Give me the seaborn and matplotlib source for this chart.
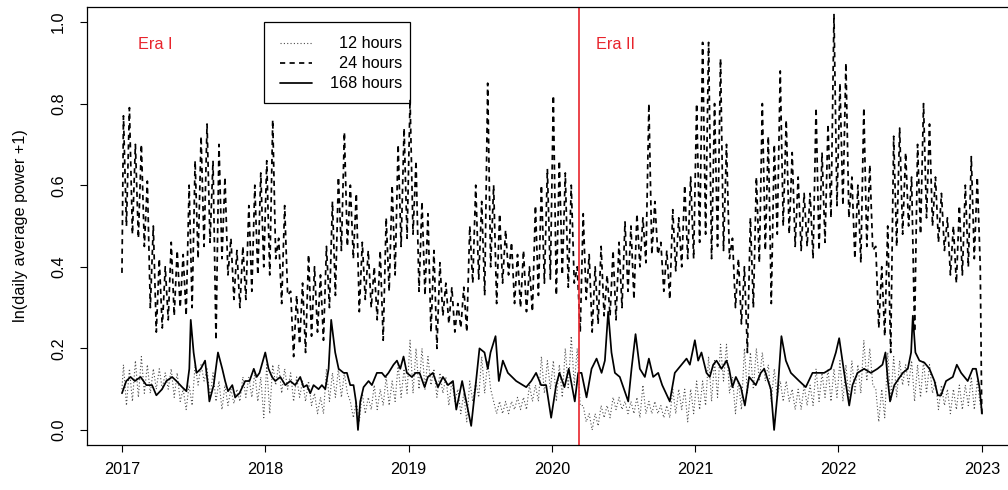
import numpy as np
import pandas as pd
import seaborn as sns
import matplotlib.pyplot as plt
from matplotlib.patches import Rectangle

# half-month readings (first half, second half of each month), 2017-2022
# 24-hour series: weekly swing, upper and lower edge of the band
dash_hi = [0.77, 0.79, 0.70, 0.70, 0.61, 0.50, 0.42, 0.40, 0.46, 0.44, 0.43, 0.60,
           0.66, 0.72, 0.75, 0.66, 0.70, 0.62, 0.47, 0.44, 0.45, 0.55, 0.60, 0.63,
           0.66, 0.76, 0.47, 0.55, 0.34, 0.33, 0.36, 0.43, 0.40, 0.38, 0.45, 0.56,
           0.62, 0.73, 0.60, 0.58, 0.46, 0.44, 0.40, 0.44, 0.52, 0.60, 0.70, 0.74,
           0.81, 0.66, 0.56, 0.53, 0.44, 0.41, 0.36, 0.35, 0.31, 0.35, 0.50, 0.60,
           0.56, 0.85, 0.60, 0.53, 0.49, 0.46, 0.43, 0.44, 0.40, 0.55, 0.60, 0.64,
           0.82, 0.66, 0.63, 0.60, 0.40, 0.53, 0.43, 0.40, 0.45, 0.38, 0.44, 0.46,
           0.51, 0.50, 0.53, 0.52, 0.80, 0.56, 0.46, 0.44, 0.54, 0.52, 0.60, 0.62,
           0.80, 0.95, 0.95, 0.80, 0.91, 0.70, 0.47, 0.42, 0.40, 0.52, 0.62, 0.80,
           0.72, 0.70, 0.88, 0.76, 0.68, 0.62, 0.58, 0.58, 0.79, 0.68, 0.75, 1.02,
           0.85, 0.90, 0.62, 0.60, 0.79, 0.65, 0.45, 0.40, 0.50, 0.72, 0.74, 0.68,
           0.62, 0.70, 0.80, 0.75, 0.62, 0.58, 0.52, 0.50, 0.55, 0.60, 0.67, 0.62]
dash_lo = [0.50, 0.48, 0.47, 0.45, 0.30, 0.24, 0.25, 0.27, 0.28, 0.30, 0.28, 0.30,
           0.42, 0.45, 0.46, 0.22, 0.42, 0.38, 0.32, 0.30, 0.32, 0.34, 0.38, 0.40,
           0.38, 0.42, 0.31, 0.33, 0.18, 0.21, 0.19, 0.23, 0.24, 0.22, 0.30, 0.33,
           0.44, 0.45, 0.42, 0.29, 0.32, 0.30, 0.27, 0.22, 0.34, 0.38, 0.45, 0.47,
           0.48, 0.34, 0.33, 0.24, 0.20, 0.28, 0.26, 0.24, 0.25, 0.24, 0.36, 0.37,
           0.33, 0.40, 0.31, 0.36, 0.38, 0.31, 0.30, 0.29, 0.29, 0.33, 0.36, 0.37,
           0.33, 0.38, 0.35, 0.36, 0.24, 0.32, 0.24, 0.26, 0.28, 0.28, 0.27, 0.30,
           0.34, 0.32, 0.40, 0.41, 0.43, 0.43, 0.34, 0.32, 0.39, 0.40, 0.42, 0.42,
           0.46, 0.48, 0.42, 0.45, 0.44, 0.42, 0.30, 0.26, 0.19, 0.30, 0.41, 0.44,
           0.31, 0.48, 0.50, 0.48, 0.45, 0.44, 0.45, 0.42, 0.44, 0.46, 0.52, 0.55,
           0.55, 0.52, 0.42, 0.41, 0.45, 0.44, 0.25, 0.23, 0.19, 0.45, 0.48, 0.50,
           0.24, 0.48, 0.52, 0.50, 0.46, 0.44, 0.38, 0.36, 0.38, 0.40, 0.42, 0.40]
dash_first, dash_last = 0.385, 0.04

# 12-hour series
dot_hi = [0.16, 0.15, 0.17, 0.18, 0.16, 0.15, 0.15, 0.14, 0.15, 0.14, 0.10, 0.11,
          0.16, 0.16, 0.15, 0.14, 0.12, 0.11, 0.10, 0.10, 0.13, 0.13, 0.14, 0.13,
          0.16, 0.16, 0.16, 0.15, 0.14, 0.13, 0.12, 0.12, 0.09, 0.08, 0.15, 0.14,
          0.15, 0.14, 0.07, 0.07, 0.09, 0.08, 0.11, 0.10, 0.13, 0.12, 0.16, 0.15,
          0.22, 0.20, 0.20, 0.18, 0.15, 0.14, 0.13, 0.12, 0.10, 0.09, 0.12, 0.12,
          0.18, 0.17, 0.07, 0.07, 0.07, 0.07, 0.08, 0.08, 0.11, 0.11, 0.18, 0.17,
          0.17, 0.16, 0.20, 0.23, 0.20, 0.06, 0.04, 0.04, 0.06, 0.06, 0.08, 0.08,
          0.07, 0.07, 0.08, 0.11, 0.07, 0.07, 0.06, 0.06, 0.10, 0.10, 0.10, 0.10,
          0.12, 0.12, 0.18, 0.17, 0.21, 0.21, 0.13, 0.12, 0.20, 0.19, 0.20, 0.19,
          0.16, 0.15, 0.12, 0.12, 0.10, 0.10, 0.11, 0.11, 0.15, 0.14, 0.15, 0.15,
          0.17, 0.16, 0.17, 0.16, 0.22, 0.20, 0.10, 0.10, 0.19, 0.18, 0.17, 0.16,
          0.17, 0.16, 0.17, 0.16, 0.12, 0.11, 0.10, 0.10, 0.11, 0.11, 0.13, 0.12]
dot_lo = [0.06, 0.07, 0.08, 0.09, 0.09, 0.10, 0.10, 0.10, 0.08, 0.07, 0.05, 0.06,
          0.11, 0.12, 0.08, 0.07, 0.05, 0.06, 0.065, 0.07, 0.08, 0.08, 0.07, 0.03,
          0.04, 0.11, 0.09, 0.10, 0.07, 0.08, 0.07, 0.06, 0.04, 0.04, 0.07, 0.08,
          0.08, 0.09, 0.03, 0.02, 0.04, 0.05, 0.05, 0.06, 0.06, 0.07, 0.08, 0.09,
          0.09, 0.10, 0.10, 0.11, 0.08, 0.09, 0.06, 0.07, 0.04, 0.02, 0.07, 0.08,
          0.09, 0.10, 0.04, 0.04, 0.04, 0.05, 0.05, 0.05, 0.07, 0.07, 0.09, 0.10,
          0.07, 0.08, 0.10, 0.11, 0.06, 0.02, 0.00, 0.01, 0.03, 0.03, 0.05, 0.05,
          0.04, 0.04, 0.03, 0.04, 0.04, 0.04, 0.03, 0.03, 0.04, 0.05, 0.02, 0.04,
          0.05, 0.06, 0.07, 0.08, 0.12, 0.09, 0.04, 0.05, 0.09, 0.10, 0.12, 0.12,
          0.07, 0.08, 0.07, 0.07, 0.05, 0.05, 0.06, 0.06, 0.07, 0.08, 0.07, 0.08,
          0.07, 0.08, 0.09, 0.09, 0.12, 0.11, 0.02, 0.03, 0.07, 0.08, 0.11, 0.11,
          0.07, 0.08, 0.09, 0.09, 0.05, 0.06, 0.04, 0.05, 0.05, 0.06, 0.05, 0.06]
dot_first, dot_last = 0.10, 0.05

# 168-hour series, read at its turning points (decimal year)
solid_t = [2017.00, 2017.03, 2017.06, 2017.09, 2017.13, 2017.17, 2017.21, 2017.24, 2017.28,
           2017.31, 2017.35, 2017.38, 2017.42, 2017.45, 2017.47, 2017.48, 2017.50, 2017.52,
           2017.55, 2017.58, 2017.60, 2017.61, 2017.64, 2017.67, 2017.70, 2017.72, 2017.74,
           2017.77, 2017.79, 2017.82, 2017.84, 2017.86, 2017.89, 2017.92, 2017.94, 2017.96,
           2018.00, 2018.023, 2018.047, 2018.07, 2018.105, 2018.14, 2018.174, 2018.209,
           2018.244, 2018.267, 2018.29, 2018.314, 2018.337, 2018.372, 2018.395, 2018.419,
           2018.442, 2018.46, 2018.488, 2018.512, 2018.547, 2018.57, 2018.593, 2018.616,
           2018.633, 2018.647, 2018.663, 2018.686, 2018.721, 2018.744, 2018.779, 2018.814,
           2018.837, 2018.86, 2018.895, 2018.919, 2018.942, 2018.965, 2018.988, 2019.023,
           2019.05, 2019.077, 2019.112, 2019.135, 2019.17, 2019.205, 2019.24, 2019.275,
           2019.31, 2019.333, 2019.374, 2019.437, 2019.468, 2019.495, 2019.53, 2019.553,
           2019.572, 2019.607, 2019.63, 2019.658, 2019.693, 2019.751, 2019.821, 2019.856,
           2019.89, 2019.925, 2019.96, 2019.995, 2020.03, 2020.053, 2020.088, 2020.118,
           2020.16, 2020.184, 2020.207, 2020.242, 2020.277, 2020.312, 2020.347, 2020.37,
           2020.393, 2020.416, 2020.44, 2020.474, 2020.533, 2020.556, 2020.584, 2020.614,
           2020.649, 2020.677, 2020.707, 2020.742, 2020.77, 2020.823, 2020.858, 2020.905,
           2020.94, 2020.963, 2020.998, 2021.021, 2021.044, 2021.079, 2021.102, 2021.126,
           2021.149, 2021.184, 2021.219, 2021.237, 2021.26, 2021.284, 2021.319, 2021.347,
           2021.377, 2021.423, 2021.458, 2021.482, 2021.528, 2021.551, 2021.575, 2021.602,
           2021.633, 2021.668, 2021.726, 2021.772, 2021.819, 2021.865, 2021.90, 2021.947,
           2021.982, 2022.005, 2022.04, 2022.075, 2022.098, 2022.133, 2022.179, 2022.226,
           2022.272, 2022.307, 2022.328, 2022.345, 2022.36, 2022.39, 2022.449, 2022.484,
           2022.507, 2022.519, 2022.537, 2022.565, 2022.60, 2022.635, 2022.67, 2022.693,
           2022.716, 2022.751, 2022.798, 2022.826, 2022.856, 2022.902, 2022.937, 2022.96,
           2022.984, 2023.002]
solid_v = [0.09, 0.12, 0.13, 0.12, 0.13, 0.11, 0.11, 0.085, 0.10,
           0.12, 0.13, 0.12, 0.105, 0.095, 0.15, 0.27, 0.19, 0.14,
           0.15, 0.17, 0.11, 0.07, 0.11, 0.19, 0.15, 0.12, 0.095,
           0.11, 0.08, 0.09, 0.105, 0.12, 0.12, 0.15, 0.13, 0.14,
           0.19, 0.15, 0.13, 0.12, 0.13, 0.11, 0.12, 0.11,
           0.13, 0.105, 0.11, 0.09, 0.11, 0.10, 0.11, 0.10,
           0.15, 0.27, 0.19, 0.15, 0.14, 0.14, 0.11, 0.11,
           0.07, 0.00, 0.07, 0.105, 0.12, 0.11, 0.14, 0.14,
           0.13, 0.14, 0.16, 0.17, 0.15, 0.18, 0.14, 0.13,
           0.14, 0.14, 0.105, 0.13, 0.14, 0.105, 0.13, 0.11,
           0.12, 0.05, 0.12, 0.01, 0.11, 0.20, 0.19, 0.15,
           0.19, 0.23, 0.12, 0.17, 0.14, 0.12, 0.105, 0.12,
           0.14, 0.11, 0.11, 0.03, 0.11, 0.14, 0.105, 0.15,
           0.07, 0.14, 0.14, 0.08, 0.15, 0.175, 0.14, 0.17,
           0.29, 0.19, 0.14, 0.13, 0.07, 0.15, 0.235, 0.15,
           0.13, 0.175, 0.13, 0.14, 0.11, 0.07, 0.14, 0.16,
           0.175, 0.16, 0.22, 0.17, 0.19, 0.14, 0.13, 0.16,
           0.17, 0.15, 0.17, 0.15, 0.105, 0.13, 0.105, 0.06,
           0.13, 0.11, 0.14, 0.15, 0.10, 0.00, 0.09, 0.23,
           0.17, 0.14, 0.12, 0.105, 0.14, 0.14, 0.14, 0.15,
           0.19, 0.225, 0.14, 0.06, 0.11, 0.14, 0.15, 0.14,
           0.15, 0.16, 0.19, 0.12, 0.07, 0.11, 0.14, 0.15,
           0.19, 0.28, 0.19, 0.17, 0.165, 0.15, 0.12, 0.085,
           0.085, 0.12, 0.13, 0.16, 0.14, 0.12, 0.15, 0.15,
           0.105, 0.04]

year_ticks = [2017, 2018, 2019, 2020, 2021, 2022, 2023]
era_split = 2020.19
eras = ["Era I", "Era II"]
series_names = ["12 hours", "24 hours", "168 hours"]


def zigzag(hi, lo, first, last):
    # each half month: the high reading, then the low reading
    start = 2017 + np.arange(len(hi)) / 24
    t = np.empty(2 * len(hi))
    v = np.empty(2 * len(hi))
    t[0::2], t[1::2] = start + 1 / 96, start + 3 / 96
    v[0::2], v[1::2] = hi, lo
    return pd.DataFrame({"year": np.r_[2017.0, t, 2023.0],
                         "value": np.r_[first, v, last]})


dash_df = zigzag(dash_hi, dash_lo, dash_first, dash_last)
dot_df = zigzag(dot_hi, dot_lo, dot_first, dot_last)
solid_df = pd.DataFrame({"year": solid_t, "value": solid_v})

sns.set_theme(style="ticks")
plt.rcParams['font.family'] = ['Liberation Sans', 'DejaVu Sans']

fig = plt.figure(figsize=(10.08, 4.9), dpi=100)
ax = fig.add_axes([87 / 1008, 45 / 490, 929 / 1008, 438 / 490])

styles = {"12 hours": dict(color="0.3", lw=0.8, linestyle=(0, (1, 2))),
          "24 hours": dict(color="black", lw=1.25, linestyle=(0, (3, 2.5))),
          "168 hours": dict(color="black", lw=1.25, linestyle="-")}

sns.lineplot(data=dot_df, x="year", y="value", ax=ax, estimator=None, sort=False,
             **styles["12 hours"])
sns.lineplot(data=dash_df, x="year", y="value", ax=ax, estimator=None, sort=False,
             **styles["24 hours"])
sns.lineplot(data=solid_df, x="year", y="value", ax=ax, estimator=None, sort=False,
             **styles["168 hours"])

ax.axvline(era_split, color="#e8242c", lw=1.2)
ax.text(2017.11, 0.946, eras[0], color="#e8242c", fontsize=11.7, va="center")
ax.text(2020.31, 0.946, eras[1], color="#e8242c", fontsize=11.7, va="center")

ax.set_xlim(2016.756, 2023.239)
ax.set_ylim(-0.0368, 1.0368)
ax.set_xticks(year_ticks)
ax.set_xticklabels([str(y) for y in year_ticks])
ax.set_yticks([0.0, 0.2, 0.4, 0.6, 0.8, 1.0])
ax.set_yticklabels(["0.0", "0.2", "0.4", "0.6", "0.8", "1.0"], rotation=90, va="center")
ax.tick_params(axis="both", direction="out", length=5, width=0.8, labelsize=11.7,
               color="black", labelcolor="black")
ax.tick_params(axis="x", pad=7)
ax.tick_params(axis="y", pad=10)
ax.set_xlabel("")
ax.set_ylabel("ln(daily average power +1)", fontsize=11.7, labelpad=17, color="black")
for s in ax.spines.values():
    s.set_color("black")
    s.set_linewidth(0.9)

# legend box drawn by hand so the labels sit right-aligned as in the original
tr = ax.transAxes
ax.add_patch(Rectangle((0.1905, 0.7808), 0.1572, 0.185, transform=tr,
                       fill=False, edgecolor="black", lw=0.9, zorder=5))
rows = [0.917, 0.872, 0.826]
for name, ry in zip(series_names, rows):
    ax.plot([0.2075, 0.2420], [ry, ry], transform=tr, zorder=5, **styles[name])
    ax.text(0.3390, ry, name, transform=tr, ha="right", va="center",
            fontsize=11.7, color="black", zorder=5)

fig.savefig("out.png", dpi=100)
